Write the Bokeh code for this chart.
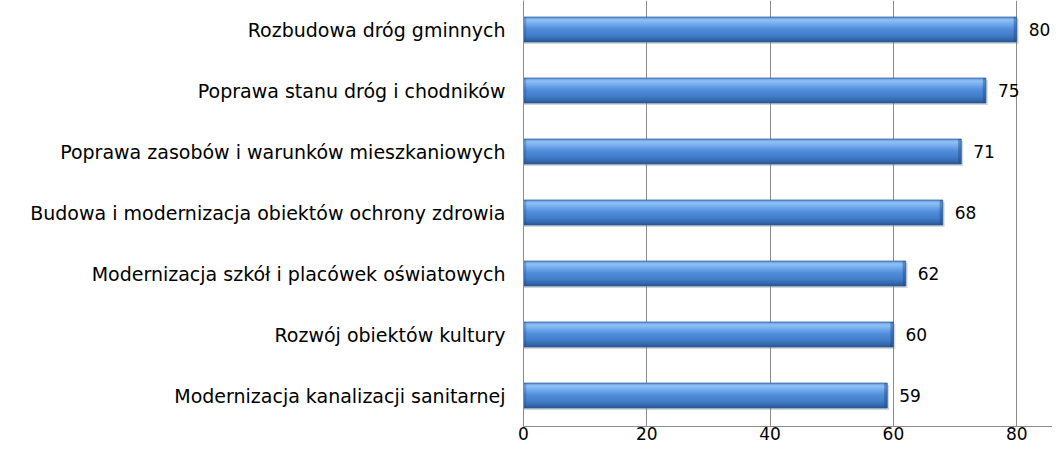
from bokeh.plotting import figure
from bokeh.models import ColumnDataSource, Range1d, FixedTicker
from bokeh.core.properties import value
from bokeh.embed import file_html
from bokeh.resources import INLINE

categories = [
    "Rozbudowa dróg gminnych",
    "Poprawa stanu dróg i chodników",
    "Poprawa zasobów i warunków mieszkaniowych",
    "Budowa i modernizacja obiektów ochrony zdrowia",
    "Modernizacja szkół i placówek oświatowych",
    "Rozwój obiektów kultury",
    "Modernizacja kanalizacji sanitarnej",
]
values = [80, 75, 71, 68, 62, 60, 59]
x_ticks = [0, 20, 40, 60, 80]

n = len(categories)
ypos = [n - 1 - i for i in range(n)]

FONT = "DejaVu Sans"
PX = 1 / 61.0
Y0 = -31 * PX
Y1 = 6 + 29 * PX

p = figure(width=1052, height=444, output_backend="svg", toolbar_location=None,
           x_range=Range1d(0, 85.8), y_range=Range1d(Y0, Y1),
           min_border_left=523, min_border_right=0, min_border_top=0, min_border_bottom=18)
p.outline_line_color = None
p.background_fill_color = "white"
p.border_fill_color = "white"

p.ygrid.grid_line_color = None
p.xgrid.grid_line_color = "#8c8c8c"
p.xgrid.grid_line_width = 1
p.xaxis.ticker = FixedTicker(ticks=x_ticks)
p.yaxis.ticker = FixedTicker(ticks=ypos)
p.yaxis.major_label_overrides = {y: c for y, c in zip(ypos, categories)}

for ax in (p.xaxis, p.yaxis):
    ax.axis_line_color = "#8c8c8c"
    ax.major_tick_line_color = None
    ax.minor_tick_line_color = None
    ax.major_tick_out = 0
    ax.major_tick_in = 0
    ax.major_label_text_font = FONT
    ax.major_label_text_color = "#000000"
p.yaxis.major_label_text_font_size = "19px"
p.yaxis.major_label_standoff = 18
p.xaxis.major_label_text_font_size = "17px"
p.xaxis.major_label_standoff = 0

src = ColumnDataSource(dict(y=ypos, v=values, cat=categories))

H = 25 * PX

# shadow
shadow = ColumnDataSource(dict(y=[y - 2 * PX for y in ypos], r=[v + 0.3 for v in values]))
p.hbar(y="y", left=0, right="r", height=H, source=shadow, fill_color="#8a8a8a",
       fill_alpha=0.35, line_color=None)

# vertical gradient (top -> bottom), 1px bands
keys = [(0, (0x5c, 0x92, 0xd6)), (3, (0x90, 0xc2, 0xf6)), (7, (0x72, 0xaa, 0xec)),
        (12, (0x50, 0x8c, 0xda)), (18, (0x42, 0x7e, 0xca)), (22, (0x35, 0x6a, 0xb0)),
        (25, (0x28, 0x55, 0x90))]

def col_at(t):
    for (a, ca), (b, cb) in zip(keys[:-1], keys[1:]):
        if a <= t <= b:
            f = (t - a) / (b - a)
            c = [round(ca[i] + (cb[i] - ca[i]) * f) for i in range(3)]
            return "#%02x%02x%02x" % tuple(c)
    return "#285590"

for k in range(25):
    c = k + 0.5
    bsrc = ColumnDataSource(dict(y=[y + H / 2 - c * PX for y in ypos], v=values))
    p.hbar(y="y", left=0, right="v", height=1.05 * PX, source=bsrc,
           fill_color=col_at(c), line_color=None)

# end bevels
bev = ColumnDataSource(dict(y=ypos, l=[v - 0.5 for v in values], v=values))
p.hbar(y="y", left="l", right="v", height=H, source=bev, fill_color="#1f4a80",
       fill_alpha=0.45, line_color=None)
bevl = ColumnDataSource(dict(y=ypos, v=values))
p.hbar(y="y", left=0, right=0.45, height=H, source=bevl, fill_color="#1f4a80",
       fill_alpha=0.3, line_color=None)
# outline
p.hbar(y="y", left=0, right="v", height=H, source=src, fill_color=None,
       line_color="#2a5b97", line_width=1, line_alpha=0.7)

p.text(x="v", y="y", text="v", source=src, x_offset=12, text_baseline="middle",
       text_font=value(FONT), text_font_size="17px", text_color="#000000")

open("out.html", "w").write(file_html(p, INLINE))
